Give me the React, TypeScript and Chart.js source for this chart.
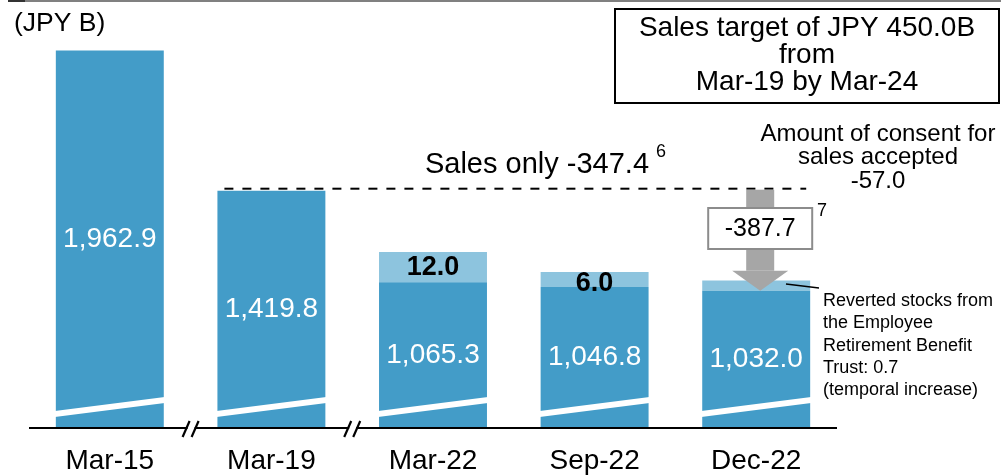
import { useEffect, useRef } from "react";
import { Chart, registerables } from "chart.js";

Chart.register(...registerables);

const categories = ["Mar-15", "Mar-19", "Mar-22", "Sep-22", "Dec-22"];
const salesValues = [1962.9, 1419.8, 1065.3, 1046.8, 1032.0];
const salesLabels = ["1,962.9", "1,419.8", "1,065.3", "1,046.8", "1,032.0"];
// light top segments as they are drawn in the picture (not to scale), axis units
const addedDrawn = [0, 0, 117, 58, 40];
const addedLabels = ["", "", "12.0", "6.0", ""];
// the axis is broken after these category indexes
const breaksAfter = [0, 1];

const FONT = '"Liberation Sans", Arial, sans-serif';
const BLUE = "#439CC8";
const LIGHT = "#8DC4DE";

const overlay = {
  id: "overlay",
  afterDatasetsDraw(chart: any) {
    const ctx = chart.ctx as CanvasRenderingContext2D;
    const area = chart.chartArea;
    const yScale = chart.scales.y;
    const m0 = chart.getDatasetMeta(0).data;
    const m1 = chart.getDatasetMeta(1).data;
    const bottom = area.bottom;
    ctx.save();

    // top rule
    ctx.fillStyle = "#808080";
    ctx.fillRect(8, 0, 993, 2);
    ctx.fillStyle = "#333";
    ctx.fillRect(8, 0, 17, 2);

    // break stripes in bars
    ctx.fillStyle = "#ffffff";
    m0.forEach((b: any) => {
      const l = b.x - b.width / 2 - 1;
      const r = b.x + b.width / 2 + 1;
      ctx.beginPath();
      ctx.moveTo(l, bottom - 11);
      ctx.lineTo(r, bottom - 25);
      ctx.lineTo(r, bottom - 31);
      ctx.lineTo(l, bottom - 17);
      ctx.closePath();
      ctx.fill();
    });

    // axis line with breaks
    const breakXs = breaksAfter.map((i) => (m0[i].x + m0[i + 1].x) / 2);
    ctx.strokeStyle = "#000";
    ctx.lineWidth = 2;
    let start = area.left;
    ctx.beginPath();
    breakXs.forEach((bx) => {
      ctx.moveTo(start, bottom);
      ctx.lineTo(bx - 3, bottom);
      start = bx + 4;
    });
    ctx.moveTo(start, bottom);
    ctx.lineTo(area.right, bottom);
    ctx.stroke();
    ctx.lineWidth = 2.2;
    breakXs.forEach((bx) => {
      [-4.5, 4.5].forEach((d) => {
        ctx.beginPath();
        ctx.moveTo(bx + d - 3.5, bottom + 9);
        ctx.lineTo(bx + d + 3.5, bottom - 7);
        ctx.stroke();
      });
    });

    // category labels
    ctx.fillStyle = "#000";
    ctx.textAlign = "center";
    ctx.textBaseline = "middle";
    ctx.font = `28px ${FONT}`;
    m0.forEach((b: any, i: number) => {
      ctx.fillText(categories[i], b.x, bottom + 33);
    });

    // value labels
    ctx.fillStyle = "#fff";
    m0.forEach((b: any, i: number) => {
      ctx.fillText(salesLabels[i], b.x, (b.y + bottom) / 2);
    });

    // added labels
    ctx.fillStyle = "#000";
    ctx.font = `bold 27px ${FONT}`;
    m1.forEach((b: any, i: number) => {
      if (!addedLabels[i]) return;
      const top = b.y;
      const base = m0[i].y;
      const cy = Math.max((top + base) / 2, top + 12);
      ctx.fillText(addedLabels[i], b.x, cy);
    });

    // dashed line at Mar-19 level
    const dashY = yScale.getPixelForValue(salesValues[1]) - 2;
    const last = m0[m0.length - 1];
    ctx.strokeStyle = "#000";
    ctx.lineWidth = 2;
    ctx.setLineDash([9, 9]);
    ctx.beginPath();
    ctx.moveTo(m0[1].x - 47, dashY);
    ctx.lineTo(last.x + 50, dashY);
    ctx.stroke();
    ctx.setLineDash([]);

    // gray arrow
    const ax = last.x + 4;
    const tip = last.y;
    const headTop = tip - 20;
    ctx.fillStyle = "#A6A6A6";
    ctx.fillRect(ax - 14, dashY + 1, 28, headTop - dashY - 1);
    ctx.beginPath();
    ctx.moveTo(ax - 28, headTop);
    ctx.lineTo(ax + 28, headTop);
    ctx.lineTo(ax, tip);
    ctx.closePath();
    ctx.fill();

    // -387.7 box
    ctx.fillStyle = "#fff";
    ctx.fillRect(ax - 52, 208, 104, 41);
    ctx.strokeStyle = "#8C8C8C";
    ctx.lineWidth = 2;
    ctx.strokeRect(ax - 52, 208, 104, 41);
    ctx.fillStyle = "#000";
    ctx.font = `25px ${FONT}`;
    ctx.fillText("-387.7", ax, 229);
    ctx.font = `18px ${FONT}`;
    ctx.fillText("7", 822, 211);

    // sales only
    ctx.font = `29px ${FONT}`;
    ctx.fillText("Sales only -347.4", 537, 165);
    ctx.font = `18px ${FONT}`;
    ctx.fillText("6", 661, 152);

    // consent text
    ctx.font = `24px ${FONT}`;
    ctx.fillText("Amount of consent for", 878, 134);
    ctx.fillText("sales accepted", 878, 157.5);
    ctx.fillText("-57.0", 878, 181);

    // callout
    ctx.strokeStyle = "#000";
    ctx.lineWidth = 1.5;
    ctx.beginPath();
    ctx.moveTo(786, 284);
    ctx.lineTo(819, 288);
    ctx.stroke();
    ctx.textAlign = "left";
    ctx.font = `18px ${FONT}`;
    const lines = [
      "Reverted stocks from",
      "the Employee",
      "Retirement Benefit",
      "Trust: 0.7",
      "(temporal increase)",
    ];
    lines.forEach((t, i) => ctx.fillText(t, 823, 301 + i * 22.3));

    // unit
    ctx.font = `26.5px ${FONT}`;
    ctx.fillText("(JPY B)", 14, 24);

    // target box
    ctx.lineWidth = 2;
    ctx.strokeRect(615, 9, 384, 94);
    ctx.textAlign = "center";
    ctx.font = `28px ${FONT}`;
    ctx.fillText("Sales target of JPY 450.0B", 807, 28.5);
    ctx.fillText("from", 807, 55.5);
    ctx.fillText("Mar-19 by Mar-24", 807, 82);

    ctx.restore();
  },
};

export default function App() {
  const ref = useRef<HTMLCanvasElement>(null);
  useEffect(() => {
    if (!ref.current) return;
    const chart = new Chart(ref.current, {
      type: "bar",
      data: {
        labels: categories,
        datasets: [
          {
            label: "Sales",
            data: salesValues,
            backgroundColor: BLUE,
            stack: "s",
            barPercentage: 0.668,
            categoryPercentage: 1,
          },
          {
            label: "Added",
            data: addedDrawn,
            backgroundColor: LIGHT,
            stack: "s",
            barPercentage: 0.668,
            categoryPercentage: 1,
          },
        ],
      },
      options: {
        animation: false,
        responsive: false,
        devicePixelRatio: 1,
        layout: { padding: { left: 29, right: 164, top: 41, bottom: 47 } },
        scales: {
          x: { display: false, stacked: true },
          y: { display: false, stacked: true, min: 500, max: 2000 },
        },
        plugins: { legend: { display: false }, tooltip: { enabled: false } },
      },
      plugins: [overlay],
    });
    return () => chart.destroy();
  }, []);
  return (
    <div style={{ position: "absolute", left: 0, top: 0, width: 1001, height: 475 }}>
      <canvas ref={ref} width={1001} height={475} />
    </div>
  );
}
